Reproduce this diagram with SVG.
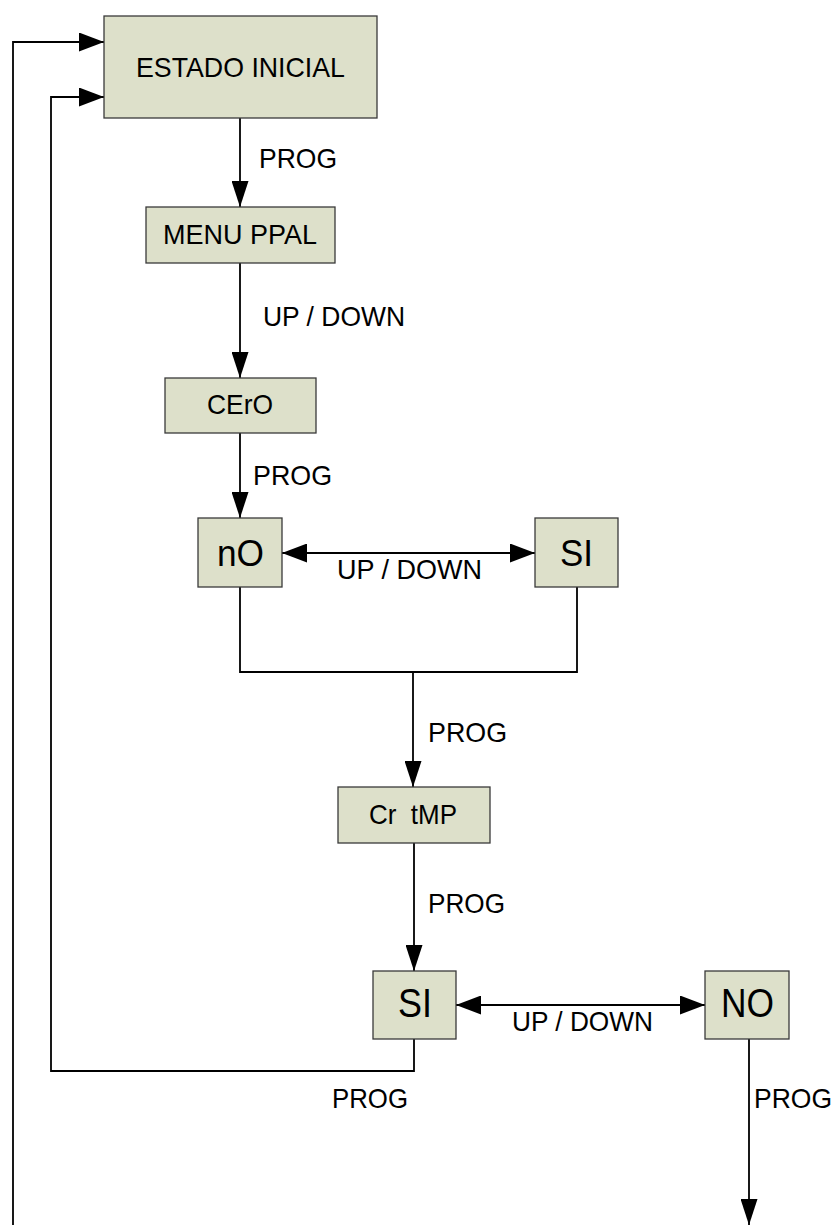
<svg xmlns="http://www.w3.org/2000/svg" width="837" height="1225" viewBox="0 0 837 1225">
  <style>
    .box { fill: #dde0ca; stroke: #3a3a3a; stroke-width: 1.3; }
    .t { font-family: "Liberation Sans", Arial, sans-serif; font-size: 28.5px; fill: #000; }
    .big { font-size: 36px; }
    .big2 { font-size: 41px; }
    .ln { fill: none; stroke: #000; stroke-width: 1.8; }
  </style>
  <defs>
    <marker id="ah" markerUnits="userSpaceOnUse" markerWidth="25" markerHeight="19" refX="25" refY="9.5" orient="auto-start-reverse" viewBox="0 0 25 19">
      <path d="M0,0 L25,9.5 L0,19 Z" fill="#000"/>
    </marker>
    <marker id="av" markerUnits="userSpaceOnUse" markerWidth="26" markerHeight="17" refX="26" refY="8.5" orient="auto" viewBox="0 0 26 17">
      <path d="M0,0 L26,8.5 L0,17 Z" fill="#000"/>
    </marker>
  </defs>
  <rect width="837" height="1225" fill="#fff"/>

  <g id="connectors">
    <line class="ln" x1="240" y1="118" x2="240" y2="207" marker-end="url(#av)"/>
    <line class="ln" x1="240" y1="263" x2="240" y2="378" marker-end="url(#av)"/>
    <line class="ln" x1="240" y1="433" x2="240" y2="518" marker-end="url(#av)"/>
    <line class="ln" x1="282" y1="553" x2="535" y2="553" marker-start="url(#ah)" marker-end="url(#ah)"/>
    <polyline class="ln" points="240,587 240,672 577,672 577,587"/>
    <line class="ln" x1="413" y1="672" x2="413" y2="787" marker-end="url(#av)"/>
    <line class="ln" x1="414" y1="843" x2="414" y2="971" marker-end="url(#av)"/>
    <line class="ln" x1="456" y1="1005" x2="705" y2="1005" marker-start="url(#ah)" marker-end="url(#ah)"/>
    <polyline class="ln" points="414,1039 414,1071 51,1071 51,97 104,97" marker-end="url(#ah)"/>
    <line class="ln" x1="749" y1="1039" x2="749" y2="1225" marker-end="url(#av)"/>
    <polyline class="ln" points="13,1225 13,42 104,42" marker-end="url(#ah)"/>
  </g>

  <g id="labels">
    <text class="t" x="259" y="168" textLength="78" lengthAdjust="spacingAndGlyphs">PROG</text>
    <text class="t" x="263" y="326" textLength="142" lengthAdjust="spacingAndGlyphs">UP / DOWN</text>
    <text class="t" x="253" y="485" textLength="79" lengthAdjust="spacingAndGlyphs">PROG</text>
    <text class="t" x="337" y="579" textLength="145" lengthAdjust="spacingAndGlyphs">UP / DOWN</text>
    <text class="t" x="428" y="742" textLength="79" lengthAdjust="spacingAndGlyphs">PROG</text>
    <text class="t" x="428" y="913" textLength="77" lengthAdjust="spacingAndGlyphs">PROG</text>
    <text class="t" x="512" y="1031" textLength="141" lengthAdjust="spacingAndGlyphs">UP / DOWN</text>
    <text class="t" x="332" y="1108" textLength="76" lengthAdjust="spacingAndGlyphs">PROG</text>
    <text class="t" x="754" y="1108" textLength="78" lengthAdjust="spacingAndGlyphs">PROG</text>
  </g>

  <g id="estado-inicial">
    <rect class="box" x="104" y="16" width="273" height="102"/>
    <text class="t" x="136" y="77" textLength="209" lengthAdjust="spacingAndGlyphs">ESTADO INICIAL</text>
  </g>
  <g id="menu-ppal">
    <rect class="box" x="146" y="207" width="189" height="56"/>
    <text class="t" x="163" y="244" textLength="154" lengthAdjust="spacingAndGlyphs">MENU PPAL</text>
  </g>
  <g id="cero">
    <rect class="box" x="165" y="378" width="151" height="55"/>
    <text class="t" x="207" y="414" textLength="66" lengthAdjust="spacingAndGlyphs">CErO</text>
  </g>
  <g id="no-1">
    <rect class="box" x="198" y="518" width="84" height="69"/>
    <text class="t big" x="217" y="566" textLength="47" lengthAdjust="spacingAndGlyphs">nO</text>
  </g>
  <g id="si-1">
    <rect class="box" x="535" y="518" width="83" height="69"/>
    <text class="t big" x="560" y="566" textLength="33" lengthAdjust="spacingAndGlyphs">SI</text>
  </g>
  <g id="cr-tmp">
    <rect class="box" x="338" y="787" width="152" height="56"/>
    <text class="t" x="369" y="824" xml:space="preserve" textLength="88" lengthAdjust="spacingAndGlyphs">Cr  tMP</text>
  </g>
  <g id="si-2">
    <rect class="box" x="373" y="971" width="83" height="68"/>
    <text class="t big2" x="398" y="1017" textLength="34" lengthAdjust="spacingAndGlyphs">SI</text>
  </g>
  <g id="no-2">
    <rect class="box" x="705" y="971" width="84" height="68"/>
    <text class="t big2" x="721" y="1017" textLength="53" lengthAdjust="spacingAndGlyphs">NO</text>
  </g>
</svg>
